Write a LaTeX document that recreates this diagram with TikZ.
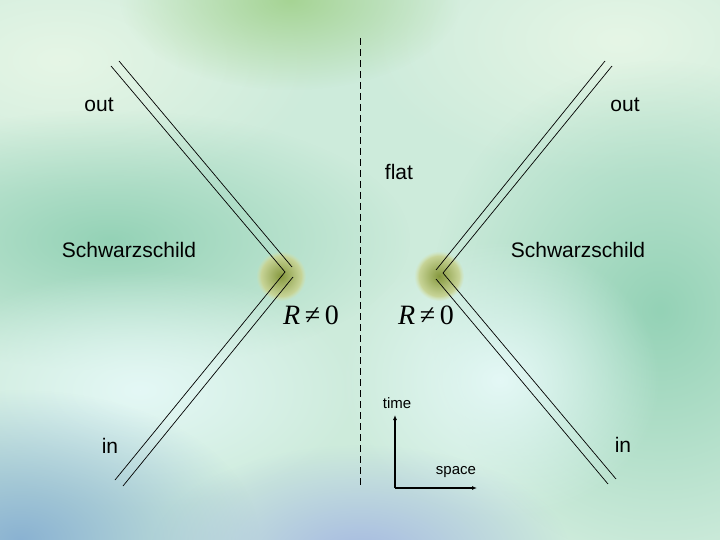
\documentclass[tikz,border=0pt]{standalone}
\usepackage{fontspec}
\setmainfont{Liberation Sans}
\newfontfamily\curvfont{Liberation Serif}
\usetikzlibrary{arrows.meta,fadings}

\tikzfading[name=softblob, inner color=transparent!0, outer color=transparent!100]

\definecolor{bgbase}{HTML}{CDEBDB}
\definecolor{bgtopgreen}{HTML}{A6D494}
\definecolor{bgpale}{HTML}{E6F6E6}
\definecolor{bgteal}{HTML}{94D2B6}
\definecolor{bgcyan}{HTML}{E4F8F6}
\definecolor{bgblue}{HTML}{8AB2D2}
\definecolor{bglilac}{HTML}{A6BAE2}
\definecolor{blobcore}{HTML}{86983E}
\definecolor{blobrim}{HTML}{D6E2AC}

\tikzset{
  wline/.style={line width=0.7pt},
  midline/.style={line width=0.9pt, dash pattern=on 7pt off 4pt},
  axis/.style={line width=1.8pt, -{Latex[length=5pt,width=4pt]}},
  lbl/.style={font=\fontsize{21}{24}\selectfont},
  smalllbl/.style={font=\fontsize{15}{17}\selectfont},
  curv/.style={font=\curvfont\fontsize{28}{30}\selectfont},
  bgblob/.style={fill=#1, path fading=softblob},
  curvblob/.style={inner color=blobcore, outer color=blobrim,
    path fading=circle with fuzzy edge 20 percent},
}

\begin{document}
\begin{tikzpicture}[x=1pt,y=-1pt]
    % background
    \fill[bgbase] (0,0) rectangle (720,540);
    \useasboundingbox (0,0) rectangle (720,540);
    \fill[bgblob=bgpale] (60,60) ellipse (260 and 140);
    \fill[bgblob=bgpale] (620,40) ellipse (260 and 140);
    \fill[bgblob=bgtopgreen] (290,0) ellipse (170 and 90);
    \fill[bgblob=bgteal] (110,240) ellipse (300 and 130);
    \fill[bgblob=bgteal] (660,310) ellipse (230 and 250);
    \fill[bgblob=bgcyan] (140,390) ellipse (220 and 120);
    \fill[bgblob=bgcyan] (500,380) ellipse (160 and 140);
    \fill[bgblob=bgblue] (20,540) ellipse (240 and 150);
    \fill[bgblob=bglilac] (360,555) ellipse (210 and 110);

    % regions where R is not zero
    \shade[curvblob] (281,276) circle (25);
    \shade[curvblob] (439,276) circle (25);

    % shells, left
    \draw[wline] (111,66) -- (285,272) -- (115,480);
    \draw[wline] (119,61) -- (292,267);
    \draw[wline] (293,277) -- (123,486);
    % shells, right
    \draw[wline] (612,66) -- (443,273) -- (616,479);
    \draw[wline] (605,61) -- (436,270);
    \draw[wline] (436,279) -- (608,484);

    % centre line
    \coordinate (midtop) at (360,38);
    \coordinate (midbot) at (360,488);
    \draw[midline] (midtop) -- (midbot);

    \node[lbl] (outL) at (99,105) {out};
    \node[lbl] (outR) at (625,105) {out};
    \node[lbl] (flat) at (399,172) {flat};
    \node[lbl] (schwL) at (129,250) {Schwarzschild};
    \node[lbl] (schwR) at (578,250) {Schwarzschild};
    \node[lbl] (inL) at (110,446) {in};
    \node[lbl] (inR) at (623,445) {in};
    \node[curv] (curvL) at (311,315) {\textit{R}\,≠\,0};
    \node[curv] (curvR) at (426,315) {\textit{R}\,≠\,0};

    % axes
    \node[smalllbl] (time) at (397,403) {time};
    \node[smalllbl] (space) at (456,472) {space};
    \coordinate (origin) at (395,488);
    \coordinate (ttip) at (395,415);
    \coordinate (stip) at (477,488);
    \draw[axis] (origin) -- (ttip);
    \draw[axis] (origin) -- (stip);
\end{tikzpicture}
\end{document}
